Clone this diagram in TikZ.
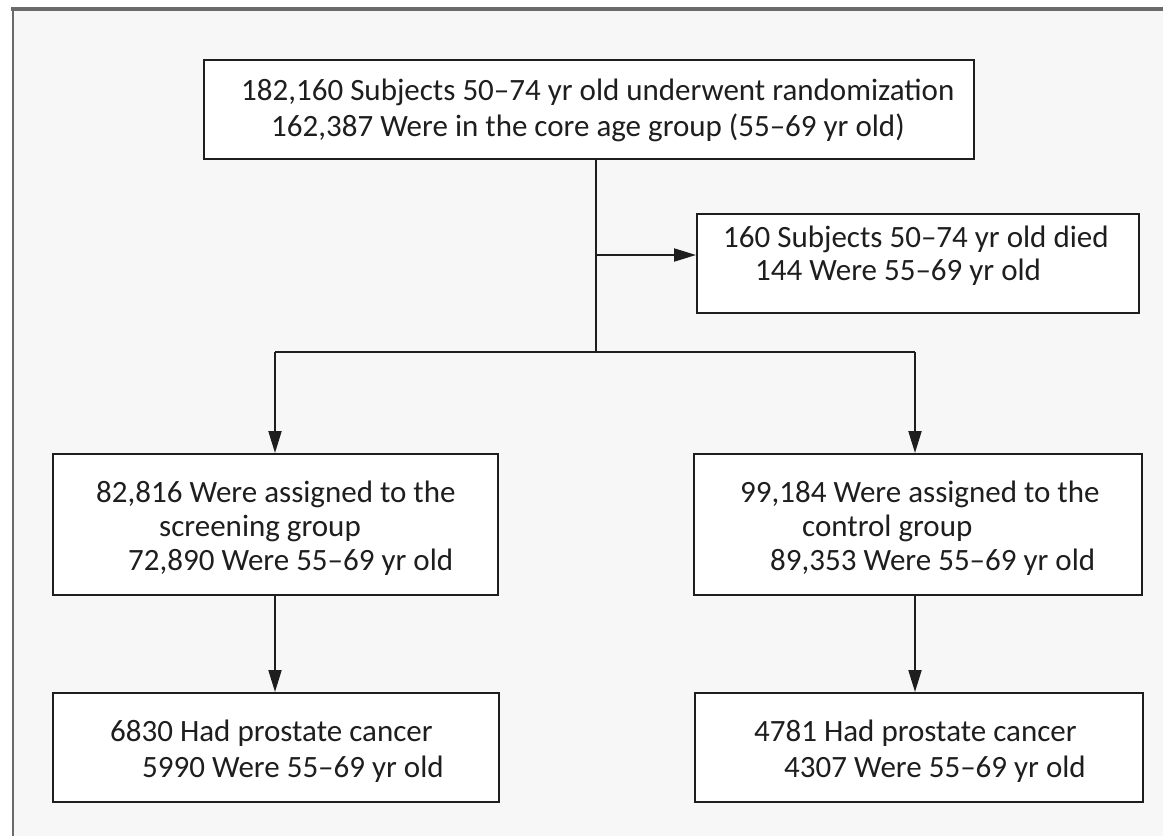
\documentclass[tikz,border=0pt]{standalone}
\usepackage{fontspec}
\setmainfont{Carlito}
\usetikzlibrary{arrows.meta}
\definecolor{bgc}{HTML}{F7F7F7}
\definecolor{framec}{HTML}{6A6A6A}
\definecolor{linec}{HTML}{1E1E1E}
\tikzset{
  box/.style={draw=linec, line width=2.4pt, fill=white, anchor=north west, inner sep=0pt},
  txt/.style={anchor=base west, inner sep=0pt, text=linec, font=\fontsize{31}{36}\selectfont},
  conn/.style={draw=linec, line width=2pt},
  arr/.style={conn, -{Triangle[length=22pt,width=13pt]}}
}
\begin{document}
\begin{tikzpicture}[x=1pt,y=-1pt]
\useasboundingbox (0,0) rectangle (1163,836);
\fill[white] (0,0) rectangle (1163,836);
\fill[bgc] (13,9) rectangle (1163,836);
\draw[framec, line width=3.5pt] (11,9) -- (1163,9);
\draw[framec, line width=2.5pt] (13,9) -- (13,836);

% boxes
\node[box, minimum width=770pt, minimum height=99pt] (top) at (203,59) {};
\node[box, minimum width=442pt, minimum height=99pt] (died) at (696,213) {};
\node[box, minimum width=445pt, minimum height=141pt] (scr) at (52,453) {};
\node[box, minimum width=448pt, minimum height=141pt] (ctl) at (693,453) {};
\node[box, minimum width=446pt, minimum height=109pt] (bl) at (52,692) {};
\node[box, minimum width=448pt, minimum height=109pt] (br) at (694,692) {};

% texts
\node[txt] (t1) at (241,100) {182,160 Subjects 50–74 yr old underwent randomization};
\node[txt] (t2) at (271,136) {162,387 Were in the core age group (55–69 yr old)};
\node[txt] (d1) at (723,247) {160 Subjects 50–74 yr old died};
\node[txt] (d2) at (755,280) {144 Were 55–69 yr old};
\node[txt] (s1) at (96,502) {82,816 Were assigned to the};
\node[txt] (s2) at (159,536) {screening group};
\node[txt] (s3) at (128,570) {72,890 Were 55–69 yr old};
\node[txt] (c1) at (740,502) {99,184 Were assigned to the};
\node[txt] (c2) at (802,536) {control group};
\node[txt] (c3) at (770,570) {89,353 Were 55–69 yr old};
\node[txt] (b1) at (110,741) {6830 Had prostate cancer};
\node[txt] (b2) at (142,777) {5990 Were 55–69 yr old};
\node[txt] (r1) at (754,741) {4781 Had prostate cancer};
\node[txt] (r2) at (784,777) {4307 Were 55–69 yr old};

% connectors
\coordinate (j1) at (596,255);
\coordinate (j2) at (596,352);
\coordinate (jl) at (275,352);
\coordinate (jr) at (915,352);
\draw[conn] (top.south -| j2) -- (j2);
\draw[arr] (j1) -- (j1 -| died.west);
\draw[conn] (jl) -- (jr);
\draw[arr] (jl) -- (jl |- scr.north);
\draw[arr] (jr) -- (jr |- ctl.north);
\draw[arr] (scr.south -| jl) -- (bl.north -| jl);
\draw[arr] (ctl.south -| jr) -- (br.north -| jr);
\end{tikzpicture}
\end{document}
